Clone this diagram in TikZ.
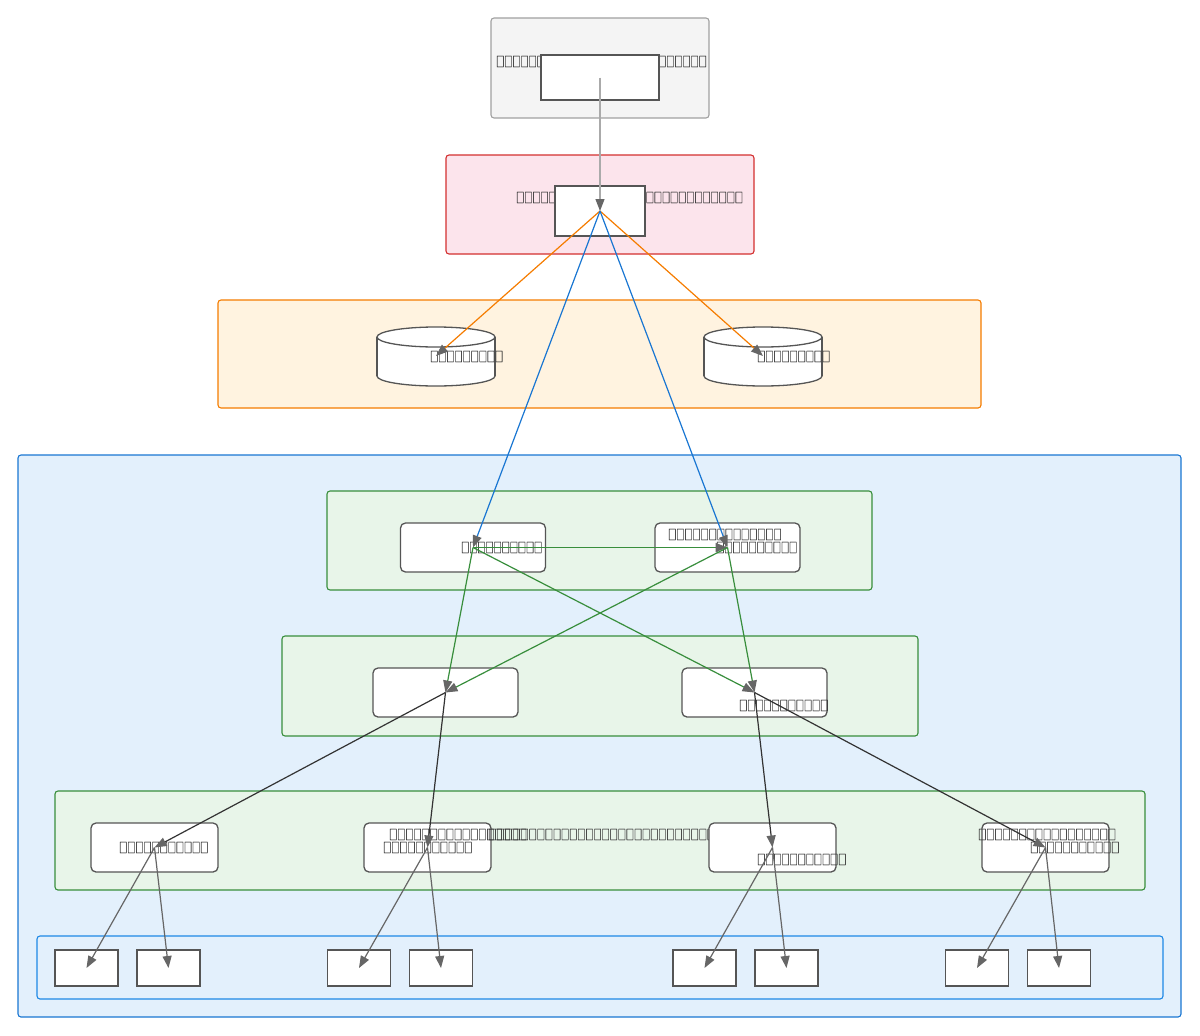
\documentclass[tikz,border=0pt]{standalone}
\usepackage{fontspec}
\usetikzlibrary{arrows.meta}
\newfontfamily\tofufont[FakeBold=0.6]{Noto Sans CJK SC}
\newcommand\tofubox{\makebox[8.1pt]{\scalebox{0.58}[1]{\tofufont\symbol{"25A1}}}}
\ExplSyntaxOn
\cs_new:Npn \tofuN #1 {\prg_replicate:nn{#1}{\tofubox}}
\ExplSyntaxOff
\definecolor{txt}{HTML}{333333}
\definecolor{nodeln}{HTML}{555555}
\definecolor{tipc}{HTML}{666666}
\definecolor{grayfill}{HTML}{F4F4F4}
\definecolor{grayln}{HTML}{A0A0A0}
\definecolor{redfill}{HTML}{FCE4EC}
\definecolor{redln}{HTML}{D32F2F}
\definecolor{orfill}{HTML}{FFF3E0}
\definecolor{orln}{HTML}{F57C00}
\definecolor{blfill}{HTML}{E3F0FC}
\definecolor{blln}{HTML}{1976D2}
\definecolor{blln2}{HTML}{1E88E5}
\definecolor{grfill}{HTML}{E8F5E9}
\definecolor{grln}{HTML}{388E3C}
\definecolor{edgegray}{HTML}{AAAAAA}
\definecolor{edgedark}{HTML}{333333}
\definecolor{edgemid}{HTML}{666666}
\tikzset{
  cluster/.style={draw=#1, line width=1.1pt, rounded corners=3pt},
  boxnode/.style={draw=nodeln, fill=white, line width=1.3pt, inner sep=0pt},
  roundnode/.style={boxnode, rounded corners=5pt},
  lbl/.style={anchor=west, inner sep=0pt, text=txt, font=\fontsize{14}{14}\selectfont, yshift=-1.5pt},
  edge/.style={draw=#1, line width=1.2pt, -{Triangle[length=12pt,width=9pt,color=tipc]}},
}
\begin{document}
\begin{tikzpicture}[x=1pt,y=-1pt]
\useasboundingbox (0,0) rectangle (1200,1036);
% clusters
\draw[cluster=grayln, fill=grayfill] (491,18) rectangle (709,118);
\draw[cluster=redln, fill=redfill] (446,155) rectangle (754,254);
\draw[cluster=orln, fill=orfill] (218,300) rectangle (981,408);
\draw[cluster=blln, fill=blfill] (18,455) rectangle (1181,1017);
\draw[cluster=grln, fill=grfill] (327,491) rectangle (872,590);
\draw[cluster=grln, fill=grfill] (282,636) rectangle (918,736);
\draw[cluster=grln, fill=grfill] (55,791) rectangle (1145,890);
\draw[cluster=blln2, fill=blfill] (37,936) rectangle (1163,999);
% cluster labels
\node[lbl] (t0) at (496,60) {\tofuN{26}};
\node[lbl] (t1) at (516,196) {\tofuN{28}};
% top nodes
\node[boxnode, minimum width=118pt, minimum height=45pt] (n0) at (600,77.5) {};
\node[boxnode, minimum width=90pt, minimum height=50pt] (n1) at (600,211) {};
% cylinders
\coordinate (db1) at (436,356);
\coordinate (db2) at (763,356);
\foreach \c in {436,763}{
  \fill[white] (\c-59,337) rectangle (\c+59,376);
  \fill[white] (\c,376) ellipse[x radius=59pt, y radius=10pt];
  \draw[draw=nodeln, fill=white, line width=1.3pt] (\c,337) ellipse[x radius=59pt, y radius=10pt];
  \draw[draw=nodeln, line width=1.3pt] (\c-59,337) -- (\c-59,376) (\c+59,337) -- (\c+59,376);
  \begin{scope}
    \clip (\c-62,376) rectangle (\c+62,390);
    \draw[draw=nodeln, line width=1.3pt] (\c,376) ellipse[x radius=59pt, y radius=10pt];
  \end{scope}
}
\node[lbl] (ldb1) at (430,355) {\tofuN{9}};
\node[lbl] (ldb2) at (757,355) {\tofuN{9}};
% level A
\node[roundnode, minimum width=145pt, minimum height=49pt] (a1) at (473,547.5) {};
\node[roundnode, minimum width=145pt, minimum height=49pt] (a2) at (727.5,547.5) {};
\node[lbl] (la1) at (461,546) {\tofuN{10}};
\node[lbl] (la2a) at (668,533) {\tofuN{14}};
\node[lbl] (la2b) at (716,546) {\tofuN{10}};
% level B
\node[roundnode, minimum width=145pt, minimum height=49pt] (b1) at (445.5,692.5) {};
\node[roundnode, minimum width=145pt, minimum height=49pt] (b2) at (754.5,692.5) {};
\node[lbl] (lb2) at (739,704) {\tofuN{11}};
% level C
\node[roundnode, minimum width=127pt, minimum height=49pt] (c1) at (154.5,847.5) {};
\node[roundnode, minimum width=127pt, minimum height=49pt] (c2) at (427.5,847.5) {};
\node[lbl] (lc1) at (119,846) {\tofuN{11}};
\node[lbl] (lc2a) at (389,833) {\tofuN{17}};
\node[lbl] (lc2b) at (383,846) {\tofuN{11}};
\node[lbl] (lg3) at (488,833) {\tofuN{28}};
\node[roundnode, minimum width=127pt, minimum height=49pt] (c3) at (772.5,847.5) {};
\node[roundnode, minimum width=127pt, minimum height=49pt] (c4) at (1045.5,847.5) {};
\node[lbl] (lc3) at (757,858) {\tofuN{11}};
\node[lbl] (lc4a) at (978,833) {\tofuN{17}};
\node[lbl] (lc4b) at (1030,846) {\tofuN{11}};
% level D
\foreach \n/\x in {d1/86.5,d2/168.5,d3/359,d4/441,d5/704.5,d6/786.5,d7/977,d8/1059}{
  \node[boxnode, minimum width=63pt, minimum height=36pt] (\n) at (\x,968) {};
}
% edges
\draw[edge=edgegray] (n0.center) -- (n1.center);
\draw[edge=orln] (n1.center) -- (db1);
\draw[edge=orln] (n1.center) -- (db2);
\draw[edge=blln] (n1.center) -- (a1.center);
\draw[edge=blln] (n1.center) -- (a2.center);
\draw[edge=grln] (a1.center) -- (a2.center);
\draw[edge=grln] (a1.center) -- (b1.center);
\draw[edge=grln] (a1.center) -- (b2.center);
\draw[edge=grln] (a2.center) -- (b1.center);
\draw[edge=grln] (a2.center) -- (b2.center);
\draw[edge=edgedark] (b1.center) -- (c1.center);
\draw[edge=edgedark] (b1.center) -- (c2.center);
\draw[edge=edgedark] (b2.center) -- (c3.center);
\draw[edge=edgedark] (b2.center) -- (c4.center);
\draw[edge=edgemid] (c1.center) -- (d1.center);
\draw[edge=edgemid] (c1.center) -- (d2.center);
\draw[edge=edgemid] (c2.center) -- (d3.center);
\draw[edge=edgemid] (c2.center) -- (d4.center);
\draw[edge=edgemid] (c3.center) -- (d5.center);
\draw[edge=edgemid] (c3.center) -- (d6.center);
\draw[edge=edgemid] (c4.center) -- (d7.center);
\draw[edge=edgemid] (c4.center) -- (d8.center);
\end{tikzpicture}
\end{document}
